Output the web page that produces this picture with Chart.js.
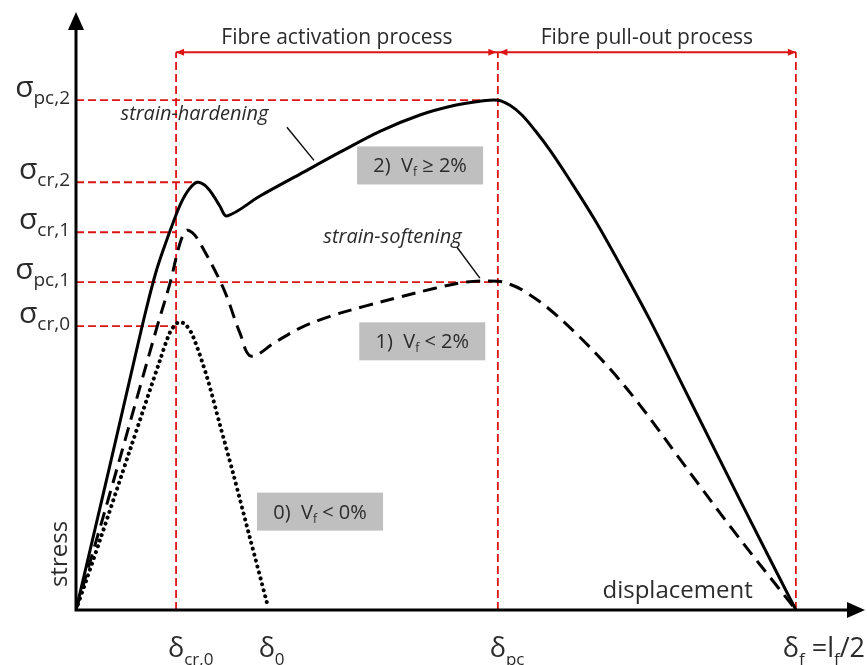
<!DOCTYPE html>
<html>
<head>
<meta charset="utf-8">
<script src="https://cdn.jsdelivr.net/npm/chart.js@4/dist/chart.umd.min.js"></script>
<style>
  html, body { margin: 0; padding: 0; background: #fff; }
  canvas { display: block; }
</style>
</head>
<body>
<canvas id="chart" width="867" height="665"></canvas>
<script>
// displacement in % of δf, stress in % of σpc,2
const hardeningX = [0, 4.72, 8.19, 9.72, 11.11, 12.36, 13.47, 14.58, 15.69, 16.81, 17.92, 19.03, 20.0, 20.97,
  25.56, 31.11, 36.67, 42.22, 47.78, 52.64, 56.11, 58.61,
  60.28, 61.94, 63.75, 65.83, 68.61, 72.08, 75.56, 79.72, 85.28, 92.22, 100];
const hardeningY = [0, 28.4, 49.6, 58.8, 66.3, 71.6, 75.9, 79.8, 82.5, 83.9, 83.3, 81.4, 79.2, 77.3,
  81.2, 85.5, 89.8, 93.9, 97.1, 99.0, 99.8, 100,
  99.0, 97.1, 94.1, 90.2, 84.3, 76.5, 67.8, 56.9, 41.2, 21.6, 0];

const softeningX = [0, 4.72, 11.25, 13.06, 14.17, 14.86, 15.42, 16.25, 17.22, 20.42, 22.78, 24.31,
  27.64, 31.11, 35.28, 40.14, 45.0, 49.86, 54.03, 58.61,
  60.28, 62.08, 65.42, 70.0, 74.17, 78.33, 84.31, 91.25, 100];
const softeningY = [0, 22.9, 55.5, 64.1, 70.6, 73.5, 74.5, 73.9, 72.0, 63.3, 54.3, 49.8,
  52.5, 55.3, 57.6, 59.6, 61.4, 63.1, 64.3, 64.5,
  63.9, 62.7, 59.4, 53.5, 47.3, 40.2, 28.8, 15.7, 0];

const plainX = [0, 3.33, 7.5, 11.67, 13.06, 13.89, 14.44, 15.28, 16.25, 18.19, 20.0, 21.81, 24.17, 26.53];
const plainY = [0, 13.7, 31.4, 49.0, 54.5, 56.1, 56.5, 55.9, 53.7, 45.7, 36.3, 26.9, 14.1, 1.4];

// stress levels on the left and where their guides stop
const sigmaLabels = ['σ_{pc,2}', 'σ_{cr,2}', 'σ_{cr,1}', 'σ_{pc,1}', 'σ_{cr,0}'];
const sigmaValues = [100, 83.9, 74.1, 64.3, 55.7];
const sigmaReach = [58.6, 16.8, 13.9, 58.6, 13.9];

// displacement marks under the axis
const deltaLabels = ['δ_{cr,0}', 'δ_{0}', 'δ_{pc}', 'δ_{f} =l_{f}/2'];
const deltaValues = [13.9, 26.5, 58.6, 100];
const guideValues = [13.9, 58.6, 100];

const processLabels = ['Fibre activation process', 'Fibre pull-out process'];
const processBounds = [13.9, 58.6, 100];
const bracketLevel = 109.4;

const caseLabels = ['2)  V_{f} ≥ 2%', '1)  V_{f} < 2%', '0)  V_{f} < 0%'];
const caseX = [47.8, 48.1, 33.9];
const caseY = [87.2, 52.7, 19.3];

const RED = '#dc1414';
const INK = '#2b2b2b';
const FONT = "'Open Sans', 'Noto Sans', sans-serif";

const toPoints = (xs, ys) => xs.map((x, i) => ({ x, y: ys[i] }));

const guideStyle = {
  borderColor: RED, borderWidth: 1.8, borderDash: [8, 4],
  pointRadius: 0, tension: 0, order: 2,
};

const datasets = [
  {
    data: toPoints(hardeningX, hardeningY),
    borderColor: '#000', borderWidth: 3, tension: 0.35, pointRadius: 0, order: 1,
  },
  {
    data: toPoints(softeningX, softeningY),
    borderColor: '#000', borderWidth: 3, borderDash: [14, 8], tension: 0.35, pointRadius: 0, order: 1,
  },
  {
    data: toPoints(plainX, plainY),
    borderColor: '#000', borderWidth: 4, borderDash: [0.1, 6], borderCapStyle: 'round',
    tension: 0.3, pointRadius: 0, order: 1,
  },
  ...sigmaValues.map((v, i) => ({ ...guideStyle, data: [{ x: 0, y: v }, { x: sigmaReach[i], y: v }] })),
  ...guideValues.map((v) => ({ ...guideStyle, data: [{ x: v, y: 0 }, { x: v, y: bracketLevel }] })),
  {
    data: [{ x: processBounds[0], y: bracketLevel }, { x: processBounds[2], y: bracketLevel }],
    borderColor: RED, borderWidth: 1.8, pointRadius: 0, order: 2,
  },
];

// "a_{b}c" -> runs of normal / subscript text
function parseRich(str) {
  return str.split(/(_\{[^}]*\})/).filter(Boolean).map((s) =>
    s.startsWith('_{') ? { t: s.slice(2, -1), sub: true } : { t: s, sub: false });
}

function drawRich(ctx, str, x, y, opt) {
  const runs = parseRich(str);
  const mainFont = `${opt.size}px ${FONT}`;
  const subFont = `${opt.subSize}px ${FONT}`;
  let w = 0;
  runs.forEach((r) => {
    ctx.font = r.sub ? subFont : mainFont;
    r.w = ctx.measureText(r.t).width;
    w += r.w;
  });
  let cx = x;
  if (opt.align === 'right') cx = x - w;
  else if (opt.align === 'center') cx = x - w / 2;
  else if (opt.align === 'first') cx = x - runs[0].w / 2;
  if (opt.maxRight && cx + w > opt.maxRight) cx = opt.maxRight - w;
  ctx.textAlign = 'left';
  ctx.textBaseline = 'alphabetic';
  runs.forEach((r) => {
    ctx.font = r.sub ? subFont : mainFont;
    ctx.fillText(r.t, cx, r.sub ? y + opt.drop : y);
    cx += r.w;
  });
}

function arrowHead(ctx, x, y, dir, len, half) {
  ctx.beginPath();
  if (dir === 'up') {
    ctx.moveTo(x, y); ctx.lineTo(x - half, y + len); ctx.lineTo(x + half, y + len);
  } else if (dir === 'right') {
    ctx.moveTo(x, y); ctx.lineTo(x - len, y - half); ctx.lineTo(x - len, y + half);
  } else {
    ctx.moveTo(x, y); ctx.lineTo(x + len, y - half); ctx.lineTo(x + len, y + half);
  }
  ctx.closePath();
  ctx.fill();
}

const sketchPlugin = {
  id: 'sketch',
  afterDatasetsDraw(chart) {
    const { ctx, chartArea, scales: { x, y } } = chart;
    const x0 = x.getPixelForValue(0);
    const y0 = y.getPixelForValue(0);
    ctx.save();

    // axes with arrows
    ctx.strokeStyle = '#000';
    ctx.fillStyle = '#000';
    ctx.lineWidth = 3;
    ctx.beginPath();
    ctx.moveTo(x0, chartArea.top + 14);
    ctx.lineTo(x0, y0);
    ctx.lineTo(chartArea.right - 14, y0);
    ctx.stroke();
    arrowHead(ctx, x0, chartArea.top, 'up', 18, 8);
    arrowHead(ctx, chartArea.right, y0, 'right', 18, 8);

    // process brackets
    const by = y.getPixelForValue(bracketLevel);
    ctx.fillStyle = RED;
    const bx = processBounds.map((v) => x.getPixelForValue(v));
    arrowHead(ctx, bx[0], by, 'left', 8, 3.5);
    arrowHead(ctx, bx[1] - 1.5, by, 'right', 8, 3.5);
    arrowHead(ctx, bx[1] + 1.5, by, 'left', 8, 3.5);
    arrowHead(ctx, bx[2], by, 'right', 8, 3.5);

    ctx.fillStyle = INK;
    ctx.font = `21px ${FONT}`;
    ctx.textAlign = 'center';
    ctx.textBaseline = 'alphabetic';
    processLabels.forEach((t, i) => {
      ctx.fillText(t, (bx[i] + bx[i + 1]) / 2, by - 8);
    });

    // stress levels
    sigmaLabels.forEach((t, i) => {
      drawRich(ctx, t, x0 - 6, y.getPixelForValue(sigmaValues[i]) - 3,
        { size: 30, subSize: 19, drop: 7, align: 'right' });
    });

    // displacement marks
    deltaLabels.forEach((t, i) => {
      drawRich(ctx, t, x.getPixelForValue(deltaValues[i]), y0 + 47,
        { size: 27, subSize: 17, drop: 8, align: 'first', maxRight: chart.width - 2 });
    });

    // axis titles
    ctx.font = `24px ${FONT}`;
    ctx.textAlign = 'right';
    ctx.fillText('displacement', x.getPixelForValue(94), y0 - 12);
    ctx.save();
    ctx.translate(x0 - 9, y0 - 56);
    ctx.rotate(-Math.PI / 2);
    ctx.textAlign = 'center';
    ctx.fillText('stress', 0, 0);
    ctx.restore();

    // curve notes with leader lines
    ctx.font = `italic 20px ${FONT}`;
    ctx.textAlign = 'center';
    ctx.textBaseline = 'middle';
    ctx.fillText('strain-hardening', x.getPixelForValue(16.46), y.getPixelForValue(97.25));
    ctx.fillText('strain-softening', x.getPixelForValue(43.96), y.getPixelForValue(73.1));
    ctx.strokeStyle = '#111';
    ctx.lineWidth = 1.5;
    ctx.beginPath();
    ctx.moveTo(x.getPixelForValue(29.3), y.getPixelForValue(94.7));
    ctx.lineTo(x.getPixelForValue(33.06), y.getPixelForValue(88.2));
    ctx.moveTo(x.getPixelForValue(52.9), y.getPixelForValue(71.2));
    ctx.lineTo(x.getPixelForValue(56.1), y.getPixelForValue(65.1));
    ctx.stroke();

    // fibre-content cases
    caseLabels.forEach((t, i) => {
      const cx = x.getPixelForValue(caseX[i]);
      const cy = y.getPixelForValue(caseY[i]);
      ctx.fillStyle = '#bfbfbf';
      ctx.fillRect(cx - 63, cy - 19, 126, 38);
      ctx.fillStyle = INK;
      drawRich(ctx, t, cx, cy + 7, { size: 20, subSize: 12, drop: 4, align: 'center' });
    });

    ctx.restore();
  },
};

new Chart(document.getElementById('chart'), {
  type: 'line',
  data: { datasets },
  options: {
    responsive: false,
    animation: false,
    layout: { padding: { left: 76, right: 2, top: 12, bottom: 55 } },
    plugins: { legend: { display: false }, tooltip: { enabled: false } },
    scales: {
      x: { type: 'linear', min: 0, max: 109.6, display: false },
      y: { type: 'linear', min: 0, max: 117.3, display: false },
    },
  },
  plugins: [sketchPlugin],
});
</script>
</body>
</html>
